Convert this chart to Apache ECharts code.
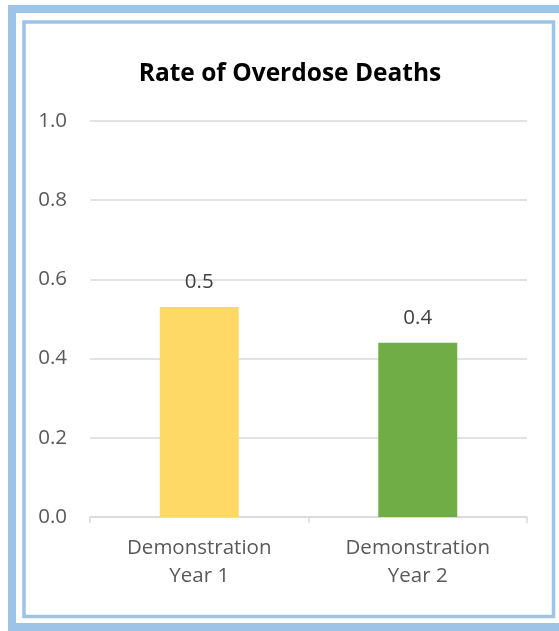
<!DOCTYPE html>
<html>
<head>
<meta charset="utf-8">
<script src="https://cdn.jsdelivr.net/npm/echarts@6/dist/echarts.min.js"></script>
<style>
  html, body { margin: 0; padding: 0; background: #ffffff; }
  #chart { width: 559px; height: 631px; }
</style>
</head>
<body>
<div id="chart"></div>
<script>
// Chart data
const categories = ['Demonstration\nYear 1', 'Demonstration\nYear 2'];
const rates = [0.53, 0.44];
const barColors = ['#FFD966', '#70AD47'];
const yTicks = { min: 0, max: 1.0, interval: 0.2 };

const chart = echarts.init(document.getElementById('chart'), null, { renderer: 'canvas' });
const frameBlue = '#9DC3E6';
const font = '"Open Sans", sans-serif';

chart.setOption({
  backgroundColor: '#ffffff',
  animation: false,
  title: {
    text: 'Rate of Overdose Deaths',
    left: 285,
    textAlign: 'center',
    top: 57,
    textStyle: { fontFamily: font, fontWeight: 'bold', fontSize: 24.5, color: '#000000' }
  },
  graphic: [
    // outer thick frame
    { type: 'rect', shape: { x: 12, y: 9, width: 560, height: 618 },
      style: { fill: 'none', stroke: frameBlue, lineWidth: 8 }, silent: true },
    // inner thin frame
    { type: 'rect', shape: { x: 24, y: 22, width: 529.5, height: 594.5 },
      style: { fill: 'none', stroke: frameBlue, lineWidth: 3.5 }, silent: true }
  ],
  grid: { left: 90, right: 32, top: 121, bottom: 114 },
  xAxis: {
    type: 'category',
    data: categories,
    axisLine: { lineStyle: { color: '#D9D9D9', width: 1.5 } },
    axisTick: { show: true, length: 6, lineStyle: { color: '#D9D9D9', width: 1.5 } },
    axisLabel: { color: '#595959', fontFamily: font, fontSize: 20.5, lineHeight: 28, margin: 17 }
  },
  yAxis: {
    type: 'value',
    min: yTicks.min, max: yTicks.max, interval: yTicks.interval,
    axisLine: { show: false },
    axisTick: { show: false },
    splitLine: { lineStyle: { color: '#D9D9D9', width: 1.5 } },
    axisLabel: { color: '#595959', fontFamily: font, fontSize: 20.5, margin: 23,
                 formatter: v => v.toFixed(1) }
  },
  series: [{
    type: 'bar',
    barWidth: 79,
    data: rates.map((v, i) => ({ value: v, itemStyle: { color: barColors[i] } })),
    label: {
      show: true, position: 'top', distance: 14,
      color: '#404040', fontFamily: font, fontSize: 20.5,
      formatter: p => p.value.toFixed(1)
    }
  }]
});
</script>
</body>
</html>
